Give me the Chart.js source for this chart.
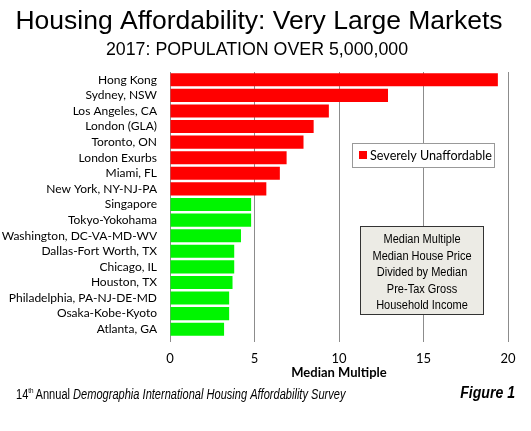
<!DOCTYPE html>
<html>
<head>
<meta charset="utf-8">
<script src="https://cdn.jsdelivr.net/npm/chart.js@4/dist/chart.umd.min.js"></script>
<style>
  html, body { margin: 0; padding: 0; background: #fff; }
  #wrap { position: relative; width: 531px; height: 431px; }
</style>
</head>
<body>
<div id="wrap"><canvas id="affordChart" width="531" height="431"></canvas></div>
<script>
const cities = [
    'Hong Kong', 'Sydney, NSW', 'Los Angeles, CA', 'London (GLA)', 'Toronto, ON',
    'London Exurbs', 'Miami, FL', 'New York, NY-NJ-PA', 'Singapore', 'Tokyo-Yokohama',
    'Washington, DC-VA-MD-WV', 'Dallas-Fort Worth, TX', 'Chicago, IL', 'Houston, TX',
    'Philadelphia, PA-NJ-DE-MD', 'Osaka-Kobe-Kyoto', 'Atlanta, GA'
];
const medianMultiple = [19.4, 12.9, 9.4, 8.5, 7.9, 6.9, 6.5, 5.7, 4.8, 4.8, 4.2, 3.8, 3.8, 3.7, 3.5, 3.5, 3.2];
const xTicks = [0, 5, 10, 15, 20];
const severeLabel = 'Severely Unaffordable';
const noteLines = ['Median Multiple', 'Median House Price', 'Divided by Median', 'Pre-Tax Gross', 'Household Income'];

const RED = '#ff0000';
const GREEN = '#00f500';

// severely unaffordable = above 5.0
const barColors = medianMultiple.map(v => v > 5.0 ? RED : GREEN);

// draw text squeezed horizontally (no narrow font installed)
function narrowText(ctx, text, x, y, sx) {
    ctx.save();
    ctx.translate(x, y);
    ctx.scale(sx, 1);
    ctx.fillText(text, 0, 0);
    const w = ctx.measureText(text).width * sx;
    ctx.restore();
    return w;
}

const decorPlugin = {
    id: 'decor',
    afterDraw(chart) {
        const ctx = chart.ctx;
        ctx.save();
        ctx.fillStyle = '#000';
        ctx.textAlign = 'center';
        ctx.textBaseline = 'alphabetic';
        // titles
        ctx.font = '26.5px "Liberation Sans", Arial, sans-serif';
        ctx.fillText('Housing Affordability: Very Large Markets', 259, 29);
        ctx.font = '17.8px "Liberation Sans", Arial, sans-serif';
        ctx.fillText('2017: POPULATION OVER 5,000,000', 257, 55);

        // legend box
        ctx.fillStyle = '#fff';
        ctx.fillRect(352, 143, 142, 24);
        ctx.strokeStyle = '#999';
        ctx.lineWidth = 1;
        ctx.strokeRect(352.5, 143.5, 142, 24);
        ctx.fillStyle = RED;
        ctx.fillRect(359, 151, 8, 8);
        ctx.fillStyle = '#000';
        ctx.textAlign = 'left';
        ctx.font = '12.6px Lato, sans-serif';
        ctx.fillText(severeLabel, 370, 160);

        // note box
        ctx.fillStyle = '#ecebe5';
        ctx.fillRect(360, 226, 123, 88);
        ctx.strokeStyle = '#333';
        ctx.strokeRect(360.5, 226.5, 123, 88);
        ctx.fillStyle = '#000';
        ctx.textAlign = 'center';
        ctx.font = '12.5px "Liberation Sans", Arial, sans-serif';
        noteLines.forEach((line, i) => {
            narrowText(ctx, line, 422, 243 + i * 16.5, 0.88);
        });

        // footer
        ctx.textAlign = 'left';
        const sq = 0.79;
        let x = 16;
        ctx.font = '14px "Liberation Sans", sans-serif';
        x += narrowText(ctx, '14', x, 399, sq);
        ctx.font = '8px "Liberation Sans", sans-serif';
        x += narrowText(ctx, 'th', x, 393, sq) + 2;
        ctx.font = '14px "Liberation Sans", sans-serif';
        x += narrowText(ctx, 'Annual ', x, 399, sq);
        ctx.font = 'italic 14px "Liberation Sans", sans-serif';
        narrowText(ctx, 'Demographia International Housing Affordability Survey', x, 399, sq);

        ctx.textAlign = 'right';
        ctx.font = 'bold italic 16px "Liberation Sans", Arial, sans-serif';
        narrowText(ctx, 'Figure 1', 515, 398, 0.88);
        ctx.restore();
    }
};

function initializeChart() {
    const ctx = document.getElementById('affordChart').getContext('2d');
    new Chart(ctx, {
        type: 'bar',
        data: {
            labels: cities,
            datasets: [{
                label: severeLabel,
                data: medianMultiple,
                backgroundColor: barColors,
                borderWidth: 0,
                barPercentage: 0.84,
                categoryPercentage: 1.0
            }]
        },
        options: {
            indexAxis: 'y',
            responsive: false,
            animation: false,
            layout: {
                padding: { top: 72, left: 0, right: 23, bottom: 50 }
            },
            scales: {
                x: {
                    min: 0,
                    max: 20,
                    afterFit: scale => { scale.height = 44; },
                    afterBuildTicks: scale => { scale.ticks = xTicks.map(v => ({ value: v })); },
                    grid: {
                        color: '#8c8c8c',
                        lineWidth: 1,
                        tickLength: 5
                    },
                    border: { display: false },
                    ticks: {
                        color: '#000',
                        padding: 9,
                        font: { family: 'Lato', size: 13 }
                    },
                    title: {
                        display: true,
                        text: 'Median Multiple',
                        color: '#000',
                        padding: { top: 0, bottom: 0 },
                        font: { family: 'Lato', size: 13, weight: 'bold' }
                    }
                },
                y: {
                    afterFit: scale => { scale.width = 170; },
                    grid: { display: false, drawTicks: false },
                    border: { display: true, color: '#8c8c8c', width: 1 },
                    ticks: {
                        color: '#000',
                        padding: 13,
                        autoSkip: false,
                        font: { family: 'Lato', size: 12 }
                    }
                }
            },
            plugins: {
                legend: { display: false },
                tooltip: { enabled: false }
            }
        },
        plugins: [decorPlugin]
    });
}

document.addEventListener('DOMContentLoaded', initializeChart);
</script>
</body>
</html>
